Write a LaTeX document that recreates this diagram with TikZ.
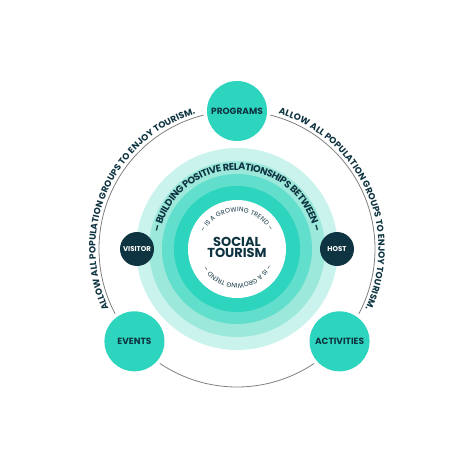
\documentclass[tikz,border=0pt]{standalone}
\usepackage{fontspec}
\setmainfont{Poppins}
\usetikzlibrary{decorations.text}
\definecolor{tealA}{HTML}{2DD4BE}
\definecolor{tealB}{HTML}{62DECC}
\definecolor{tealC}{HTML}{9CE9DC}
\definecolor{tealD}{HTML}{C9F3EC}
\definecolor{navy}{HTML}{0F3441}
\definecolor{arcgray}{HTML}{808080}
\tikzset{
  bignode/.style={circle, fill=tealA, minimum size=60pt, inner sep=0pt, text=navy, font=\bfseries\fontsize{9}{9}\selectfont},
  darknode/.style={circle, fill=navy, minimum size=34pt, inner sep=0pt, text=white, font=\bfseries\fontsize{7}{7}\selectfont},
  ringline/.style={draw=arcgray, line width=0.8pt},
  arctext/.style n args={2}{decorate, decoration={text effects along path,
    text={#1}, text effects/.cd, text along path, fit text to path,
    characters={inner sep=0pt, text=navy, font=#2}}},
}
\begin{document}
\begin{tikzpicture}[x=1pt,y=1pt]
\useasboundingbox (-237,-225) rectangle (237,249);
\fill[white] (-237,-225) rectangle (237,249);
% concentric rings
\fill[tealD] (0,0) circle (101);
\fill[tealC] (0,0) circle (88);
\fill[tealB] (0,0) circle (75);
\fill[tealA] (0,0) circle (63);
\node[circle, fill=white, minimum size=98pt, inner sep=0pt] (core) at (0,0) {};
\node[text=navy, align=center, font=\bfseries\fontsize{13}{10.8}\selectfont] (title) at (0,1.5) {SOCIAL\\TOURISM};
% outer circle arcs
\draw[ringline] (104:138) arc[start angle=104, end angle=208, radius=138];
\draw[ringline] (76:138) arc[start angle=76, end angle=-28, radius=138];
\draw[ringline] (236:138) arc[start angle=236, end angle=304, radius=138];
% outer nodes
\node[bignode] (programs) at (90:138) {PROGRAMS};
\node[bignode] (events) at (222:138) {EVENTS};
\node[bignode] (activities) at (318:138) {ACTIVITIES};
\node[darknode] (visitor) at (-100,0) {VISITOR};
\node[darknode] (host) at (100,0) {HOST};
% texts along arcs
\path[arctext={ALLOW ALL POPULATION GROUPS TO ENJOY TOURISM.}{\bfseries\fontsize{9}{9}\selectfont}]
  (205:141.5) arc[start angle=205, end angle=107, radius=141.5];
\path[arctext={ALLOW ALL POPULATION GROUPS TO ENJOY TOURISM.}{\bfseries\fontsize{9}{9}\selectfont}]
  (73:141.5) arc[start angle=73, end angle=-25, radius=141.5];
\path[arctext={– BUILDING POSITIVE RELATIONSHIPS BETWEEN –}{\bfseries\fontsize{9.8}{9.8}\selectfont}]
  (168:79) arc[start angle=168, end angle=12, radius=79];
\path[arctext={– IS A GROWING TREND –}{\fontsize{6.4}{6.4}\selectfont}]
  (153:37) arc[start angle=153, end angle=28, radius=37];
\path[arctext={– IS A GROWING TREND –}{\fontsize{6.4}{6.4}\selectfont}]
  (-27:34.5) arc[start angle=-27, end angle=-150, radius=34.5];
\end{tikzpicture}
\end{document}
